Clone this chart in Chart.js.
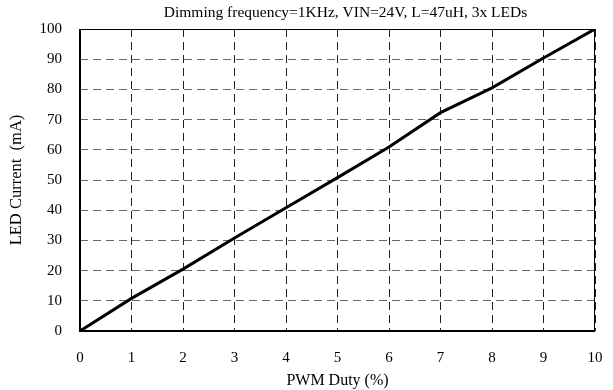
<!DOCTYPE html>
<html>
<head>
<meta charset="utf-8">
<script src="https://cdn.jsdelivr.net/npm/chart.js@4"></script>
<style>
  html, body { margin: 0; padding: 0; background: #fff; }
  #wrap { width: 613px; height: 390px; }
</style>
</head>
<body>
<div id="wrap"><canvas id="ledChart" width="613" height="390"></canvas></div>
<script>
// PWM duty (%) and measured LED current (mA)
const duty = [0, 1, 2, 3, 4, 5, 6, 7, 8, 9, 10];
const current = [0, 10.8, 20.5, 30.8, 40.8, 50.8, 60.9, 72.3, 80.5, 90.4, 100];

const titleText = 'Dimming frequency=1KHz, VIN=24V, L=47uH, 3x LEDs';
const xTitle = 'PWM Duty (%)';
const yTitle = 'LED Current  (mA)';

const serif = "'Liberation Serif', 'Times New Roman', serif";

// titre + cadre autour de la zone de tracé
const framePlugin = {
    id: 'frame',
    afterDraw(chart) {
        const ctx = chart.ctx;
        const a = chart.chartArea;
        ctx.save();
        ctx.strokeStyle = '#000';
        ctx.lineWidth = 1;
        ctx.strokeRect(a.left + 0.5, a.top + 0.5, a.right - a.left - 1, a.bottom - a.top);
        ctx.lineWidth = 2;
        ctx.beginPath();
        ctx.moveTo(a.left, a.top);
        ctx.lineTo(a.left, a.bottom);
        ctx.lineTo(a.right, a.bottom);
        ctx.stroke();
        ctx.fillStyle = '#000';
        ctx.font = '15.5px ' + serif;
        ctx.textAlign = 'center';
        ctx.textBaseline = 'middle';
        ctx.fillText(titleText, (a.left + a.right) / 2 + 8, 13);
        ctx.restore();
    }
};

const ctx = document.getElementById('ledChart').getContext('2d');
const chart = new Chart(ctx, {
    type: 'line',
    data: {
        datasets: [{
            data: duty.map((d, i) => ({ x: d, y: current[i] })),
            borderColor: '#000',
            borderWidth: 3,
            pointRadius: 0,
            tension: 0,
            fill: false
        }]
    },
    options: {
        responsive: false,
        animation: false,
        layout: { padding: { top: 29, right: 18, bottom: 0, left: 0 } },
        plugins: {
            legend: { display: false },
            title: { display: false },
            tooltip: { enabled: false }
        },
        scales: {
            x: {
                type: 'linear',
                min: 0,
                max: 10,
                afterFit: s => { s.height = 59; s.paddingLeft = 0; s.paddingRight = 0; },
                ticks: {
                    stepSize: 1,
                    padding: 18,
                    color: '#000',
                    font: { family: serif, size: 15 }
                },
                grid: {
                    color: '#222',
                    lineWidth: 1,
                    drawTicks: false
                },
                border: { display: false, dash: [8, 5] },
                title: {
                    display: true,
                    text: xTitle,
                    color: '#000',
                    font: { family: serif, size: 16 },
                    padding: { top: 0, bottom: 0 }
                }
            },
            y: {
                min: 0,
                max: 100,
                afterFit: s => { s.width = 80; },
                ticks: {
                    stepSize: 10,
                    padding: 18,
                    color: '#000',
                    font: { family: serif, size: 15 }
                },
                grid: {
                    color: '#666',
                    lineWidth: 1,
                    drawTicks: false
                },
                border: { display: false, dash: [8, 5] },
                title: {
                    display: true,
                    text: yTitle,
                    color: '#000',
                    font: { family: serif, size: 16.5 },
                    padding: { top: 7, bottom: 0 }
                }
            }
        }
    },
    plugins: [framePlugin]
});
</script>
</body>
</html>
